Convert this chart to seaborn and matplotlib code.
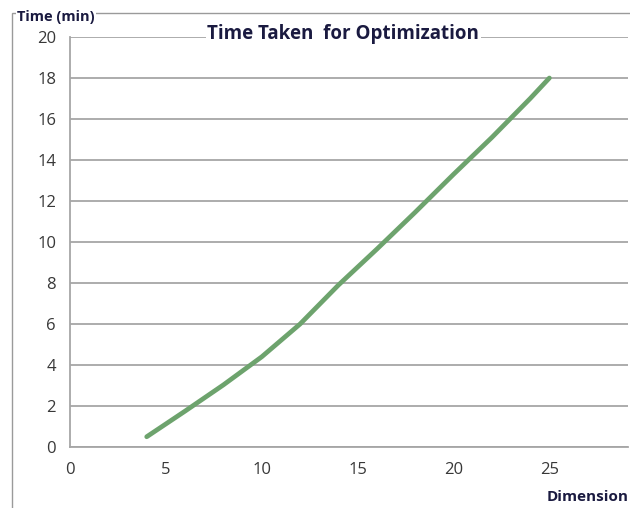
import matplotlib
matplotlib.use("Agg")
import matplotlib.pyplot as plt
from matplotlib.patches import Rectangle
import pandas as pd
import seaborn as sns

# values
dimension = [4, 6, 8, 10, 12, 14, 16, 18, 20, 22, 24, 25]
time_min = [0.5, 1.75, 3.03, 4.4, 6.0, 7.9, 9.65, 11.45, 13.3, 15.1, 17.0, 18.0]

x_ticks = [0, 5, 10, 15, 20, 25]
y_ticks = [0, 2, 4, 6, 8, 10, 12, 14, 16, 18, 20]

TITLE = "Time Taken  for Optimization"
X_LABEL = "Dimension"
Y_LABEL = "Time (min)"

sns.set_theme(style="white")
plt.rcParams["font.family"] = ["Open Sans", "DejaVu Sans"]

GRID = "#a6a6a6"
TEXT = "#383838"
NAVY = "#1a1a40"

df = pd.DataFrame({"dimension": dimension, "time": time_min})

fig = plt.figure(figsize=(6.3, 5.08), dpi=100)
ax = fig.add_axes([70 / 630, 1 - 447 / 508, 558 / 630, 410 / 508])

sns.lineplot(data=df, x="dimension", y="time", ax=ax, color="#6da36d",
             linewidth=3.4, sort=False, estimator=None, zorder=3,
             solid_capstyle="round", solid_joinstyle="round")

ax.set_xlim(0, 29.1)
ax.set_ylim(0, 20)
ax.set_xticks(x_ticks)
ax.set_yticks(y_ticks)
ax.set_xlabel("")
ax.set_ylabel("")

ax.yaxis.grid(True, color=GRID, linewidth=1.3)
ax.xaxis.grid(False)
for side in ["top", "right"]:
    ax.spines[side].set_visible(False)
for side in ["left", "bottom"]:
    ax.spines[side].set_color(GRID)
    ax.spines[side].set_linewidth(1.3)

ax.tick_params(axis="both", which="major", direction="out", length=6,
               width=1.3, color=GRID, labelcolor=TEXT, labelsize=12)
ax.tick_params(axis="x", pad=5)
ax.tick_params(axis="y", pad=4)

ax.text(0.49, 1.008, TITLE, transform=ax.transAxes, ha="center", va="center",
        fontsize=13.5, fontweight="bold", color=NAVY,
        bbox=dict(facecolor="white", edgecolor="none", pad=1.0), zorder=5)

# outer frame, broken by the axis titles
fig.add_artist(Rectangle((12 / 630, -0.1), 1.2, 1 - 13 / 508 + 0.1,
                         transform=fig.transFigure, fill=False,
                         edgecolor="#9a9a9a", linewidth=1.0))
fig.text(17 / 630, 1 - 17 / 508, Y_LABEL, ha="left", va="center",
         fontsize=10.5, fontweight="bold", color=NAVY,
         bbox=dict(facecolor="white", edgecolor="none", pad=1.0))
fig.text(629 / 630, 1 - 497 / 508, X_LABEL, ha="right", va="center",
         fontsize=11, fontweight="bold", color=NAVY)

fig.savefig("out.png", dpi=100)
plt.close(fig)
